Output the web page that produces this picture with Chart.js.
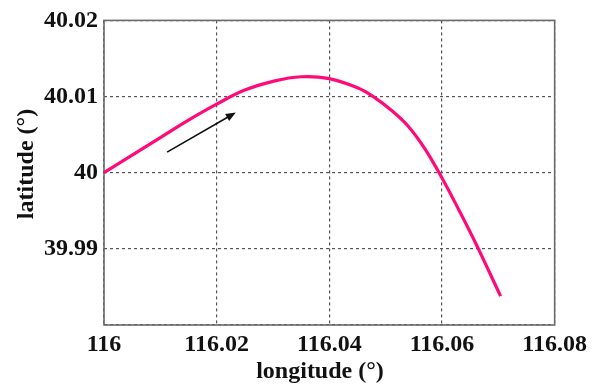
<!DOCTYPE html>
<html>
<head>
<meta charset="utf-8">
<script src="https://cdn.jsdelivr.net/npm/chart.js@4/dist/chart.umd.min.js"></script>
<style>
  html, body { margin: 0; padding: 0; background: #fff; }
  #wrap { width: 592px; height: 384px; }
</style>
</head>
<body>
<div id="wrap"><canvas id="c" width="592" height="384"></canvas></div>
<script>
// Track of the moving point: longitude / latitude in degrees
const longitude = [116.000, 116.005, 116.010, 116.015, 116.020, 116.025, 116.030,
                   116.035, 116.040, 116.045, 116.048, 116.051, 116.054, 116.057,
                   116.060, 116.063, 116.066, 116.0704];
const latitude  = [40.0000, 40.0023, 40.0046, 40.0069, 40.0090, 40.01085, 40.0120,
                   40.0126, 40.01235, 40.01115, 40.0099, 40.0082, 40.0061, 40.0031,
                   39.9993, 39.9951, 39.9907, 39.9838];

// Direction-of-travel arrow (tail -> head), in data units
const arrowLon = [116.0112, 116.0234];
const arrowLat = [40.0027, 40.0079];

// Tick labels
const xTickLabels = ['116', '116.02', '116.04', '116.06', '116.08'];
const yTickLabels = ['39.98', '39.99', '40', '40.01', '40.02'];
const yTickShown  = [false, true, true, true, true];

// Axis titles
const xTitle = 'longitude (°)';
const yTitle = 'latitude (°)';

const points = longitude.map((lon, i) => ({ x: lon, y: latitude[i] }));
const serif = '"Liberation Serif", "Times New Roman", serif';
const labelFont = { family: serif, size: 24, weight: 'bold' };

// Frame around the plot area, the direction arrow and the axis titles
const decorPlugin = {
  id: 'decor',
  beforeDatasetsDraw(chart) {
    const { ctx, chartArea: a } = chart;
    ctx.save();
    ctx.strokeStyle = '#6a6a6a';
    ctx.lineWidth = 1.6;
    ctx.strokeRect(a.left, a.top, a.right - a.left, a.bottom - a.top);
    ctx.restore();
  },
  afterDatasetsDraw(chart) {
    const { ctx, scales } = chart;
    const x0 = scales.x.getPixelForValue(arrowLon[0]);
    const y0 = scales.y.getPixelForValue(arrowLat[0]);
    const x1 = scales.x.getPixelForValue(arrowLon[1]);
    const y1 = scales.y.getPixelForValue(arrowLat[1]);
    const ang = Math.atan2(y1 - y0, x1 - x0);
    const headLen = 10, headHalf = 4;
    ctx.save();
    ctx.strokeStyle = '#111';
    ctx.fillStyle = '#111';
    ctx.lineWidth = 1.6;
    ctx.beginPath();
    ctx.moveTo(x0, y0);
    ctx.lineTo(x1 - Math.cos(ang) * headLen * 0.8, y1 - Math.sin(ang) * headLen * 0.8);
    ctx.stroke();
    ctx.beginPath();
    ctx.moveTo(x1, y1);
    ctx.lineTo(x1 - Math.cos(ang) * headLen - Math.sin(ang) * headHalf,
               y1 - Math.sin(ang) * headLen + Math.cos(ang) * headHalf);
    ctx.lineTo(x1 - Math.cos(ang) * headLen + Math.sin(ang) * headHalf,
               y1 - Math.sin(ang) * headLen - Math.cos(ang) * headHalf);
    ctx.closePath();
    ctx.fill();
    ctx.restore();
  },
  afterDraw(chart) {
    const { ctx } = chart;
    ctx.save();
    ctx.fillStyle = '#111';
    ctx.font = 'bold 24px ' + serif;
    ctx.textAlign = 'center';
    ctx.textBaseline = 'alphabetic';
    ctx.fillText(xTitle, 320, 378);
    ctx.translate(33, 164);
    ctx.rotate(-Math.PI / 2);
    ctx.fillText(yTitle, 0, 0);
    ctx.restore();
  }
};

new Chart(document.getElementById('c'), {
  type: 'scatter',
  data: {
    datasets: [{
      data: points,
      showLine: true,
      borderColor: '#ff0a78',
      borderWidth: 3.2,
      pointRadius: 0,
      tension: 0.4,
      fill: false
    }]
  },
  options: {
    responsive: false,
    animation: false,
    layout: { padding: { top: 16, right: 36, left: 0, bottom: 0 } },
    plugins: { legend: { display: false }, tooltip: { enabled: false } },
    scales: {
      x: {
        type: 'linear',
        min: 116,
        max: 116.08,
        afterBuildTicks(scale) {
          scale.ticks = xTickLabels.map((_, i) => ({ value: 116 + i * 0.02 }));
        },
        afterFit(scale) { scale.height = 59; },
        ticks: {
          padding: 5,
          color: '#111',
          maxRotation: 0,
          autoSkip: false,
          font: labelFont,
          callback: (v, i) => xTickLabels[i]
        },
        grid: { color: '#555', lineWidth: 1.2, drawTicks: false },
        border: { display: false, dash: [3, 3] }
      },
      y: {
        type: 'linear',
        min: 39.98,
        max: 40.02,
        afterBuildTicks(scale) {
          scale.ticks = yTickLabels.map((_, i) => ({ value: 39.98 + i * 0.01 }));
        },
        afterFit(scale) { scale.width = 104; },
        ticks: {
          padding: 6,
          color: '#111',
          autoSkip: false,
          font: labelFont,
          callback: (v, i) => (yTickShown[i] ? yTickLabels[i] : '')
        },
        grid: { color: '#555', lineWidth: 1.2, drawTicks: false },
        border: { display: false, dash: [3, 3] }
      }
    }
  },
  plugins: [decorPlugin]
});
</script>
</body>
</html>
